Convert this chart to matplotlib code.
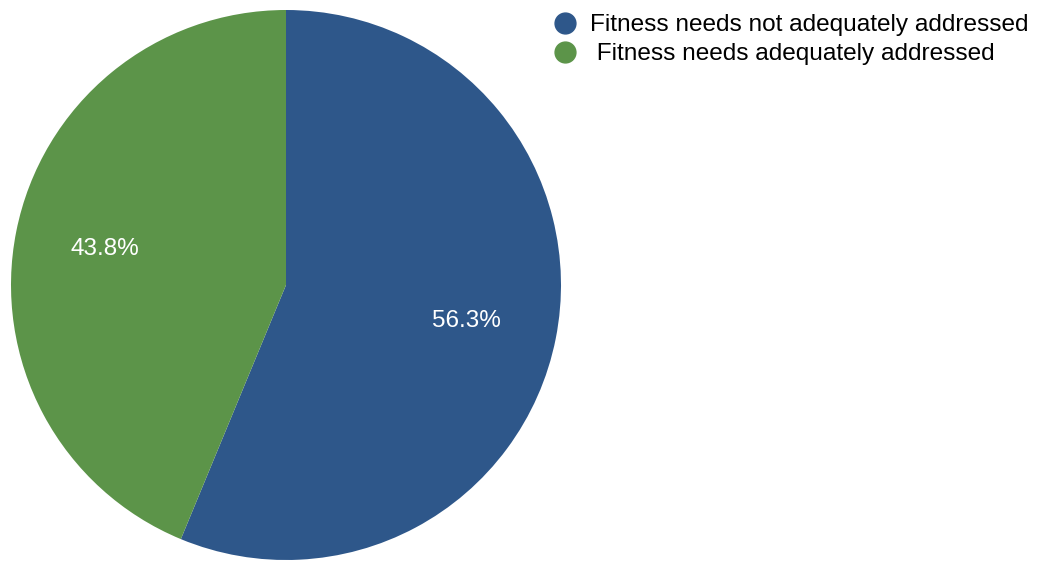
import matplotlib.pyplot as plt
from matplotlib.lines import Line2D

plt.rcParams['font.family'] = ['Liberation Sans', 'DejaVu Sans']

labels = ['Fitness needs not adequately addressed', ' Fitness needs adequately addressed']
values = [56.3, 43.8]
colors = ['#2E578A', '#5C9449']

fig = plt.figure(figsize=(10.49, 5.61), dpi=100)
ax = fig.add_axes([11 / 1049, 1 / 561, 550 / 1049, 550 / 561])

wedges, texts, autotexts = ax.pie(values, colors=colors, startangle=90, counterclock=False,
                                  autopct=lambda p: f'{p * sum(values) / 100:.1f}%',
                                  pctdistance=0.67,
                                  textprops={'color': 'white', 'fontsize': 17.5})
ax.set_xlim(-1, 1)
ax.set_ylim(-1, 1)
ax.set_aspect('equal')

handles = [Line2D([], [], marker='o', linestyle='', markersize=15, color=c) for c in colors]
fig.legend(handles, labels, loc='upper left', bbox_to_anchor=(528 / 1049, 1.014),
           frameon=False, fontsize=17.6, handletextpad=0.45, labelspacing=0.28,
           handlelength=1.2)

fig.savefig('out.png', dpi=100)
